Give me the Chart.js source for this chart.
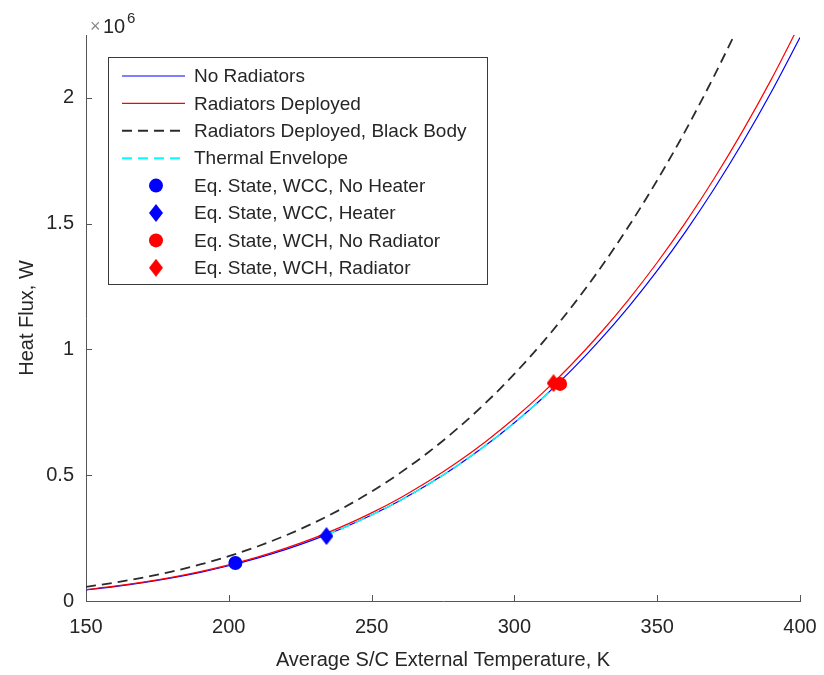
<!DOCTYPE html>
<html>
<head>
<meta charset="utf-8">
<script src="https://cdn.jsdelivr.net/npm/chart.js@4.4.0/dist/chart.umd.min.js"></script>
<style>
html, body { margin: 0; padding: 0; background: #fff; }
#wrap { width: 824px; height: 675px; }
</style>
</head>
<body>
<div id="wrap"><canvas id="myChart" width="824" height="675"></canvas></div>
<script>
/**
 *  Data
 */
var temperature = [150, 160, 170, 180, 190, 200, 210, 220, 230, 240, 250, 260, 270,
    280, 290, 300, 310, 320, 330, 340, 350, 360, 370, 380, 390, 400];
var noRadiators = [44300, 57300, 73100, 91900, 114000, 140000, 170200, 205000, 244900,
    290300, 341800, 399900, 465000, 537800, 618900, 708800, 808100, 917500, 1037700,
    1169300, 1313000, 1469700, 1639900, 1824500, 2024300, 2240000];
var radiatorsDeployed = [45400, 58800, 74900, 94100, 116900, 143500, 174400, 210100,
    250900, 297500, 350300, 409800, 476600, 551200, 634200, 726300, 828100, 940300,
    1063400, 1198300, 1345600, 1506100, 1680600, 1869800, 2074500, 2295600];
var blackBodyTemperature = [150, 160, 170, 180, 190, 200, 210, 220, 230, 240, 250, 260,
    270, 280, 290, 300, 310, 320, 330, 340, 350, 360, 370, 377];
var blackBody = [56500, 73100, 93100, 117000, 145200, 178300, 216700, 261000, 311800,
    369800, 435300, 509300, 592200, 685000, 788200, 902700, 1029200, 1168600, 1321700,
    1489300, 1672400, 1871800, 2088600, 2250000];
var envelopeTemperature = [234, 240, 250, 260, 270, 280, 290, 300, 310, 314];
var envelope = [262400, 290300, 341800, 399900, 465000, 537800, 618900, 708800, 808100, 850600];

var stateLabels = ["Eq. State, WCC, No Heater", "Eq. State, WCC, Heater",
    "Eq. State, WCH, No Radiator", "Eq. State, WCH, Radiator"];
var stateTemperature = [202.3, 234.2, 316, 313.7];
var stateFlux = [151000, 258000, 863000, 866000];

var yTicks = [0, 500000, 1000000, 1500000, 2000000];
var xTicks = [150, 200, 250, 300, 350, 400];

/**
 *  Helpers
 */
var toPoints = function (xs, ys) {
    return xs.map(function (x, i) { return { x: x, y: ys[i] }; });
};

var makeDiamond = function (color) {
    var c = document.createElement("canvas");
    c.width = 14;
    c.height = 18;
    var g = c.getContext("2d");
    g.fillStyle = color;
    g.beginPath();
    g.moveTo(7, 0);
    g.lineTo(14, 9);
    g.lineTo(7, 18);
    g.lineTo(0, 9);
    g.closePath();
    g.fill();
    return c;
};

var textColor = "#262626";
var axisColor = "#555555";
var fontFamily = "'Liberation Sans', Arial, Helvetica, sans-serif";

var curve = function (label, xs, ys, color, dash, width, order) {
    return {
        label: label,
        data: toPoints(xs, ys),
        showLine: true,
        borderColor: color,
        backgroundColor: color,
        borderWidth: width,
        borderDash: dash,
        pointRadius: 0,
        cubicInterpolationMode: "monotone",
        order: order
    };
};

var marker = function (i, color, style, radius) {
    return {
        label: stateLabels[i],
        data: [{ x: stateTemperature[i], y: stateFlux[i] }],
        showLine: false,
        pointStyle: style,
        pointRadius: radius,
        pointBackgroundColor: color,
        pointBorderColor: color,
        borderColor: color,
        backgroundColor: color,
        pointBorderWidth: 0,
        order: 0
    };
};

/**
 *  Plugins: inward ticks, x10^6 label, legend box
 */
var matlabAxes = {
    id: "matlabAxes",
    afterDatasetsDraw: function (chart) {
        var ctx = chart.ctx;
        var area = chart.chartArea;
        var xs = chart.scales.x;
        var ys = chart.scales.y;
        ctx.save();
        ctx.strokeStyle = axisColor;
        ctx.lineWidth = 1;
        ctx.beginPath();
        xTicks.forEach(function (v) {
            var px = Math.round(xs.getPixelForValue(v)) + 0.5;
            ctx.moveTo(px, area.bottom);
            ctx.lineTo(px, area.bottom - 6);
        });
        yTicks.forEach(function (v) {
            var py = Math.round(ys.getPixelForValue(v)) + 0.5;
            ctx.moveTo(area.left, py);
            ctx.lineTo(area.left + 6, py);
        });
        ctx.stroke();

        // exponent label
        ctx.fillStyle = "#8a8a8a";
        ctx.font = "18px " + fontFamily;
        ctx.textBaseline = "alphabetic";
        ctx.textAlign = "left";
        ctx.fillText("\u00d7", 90, 32);
        ctx.fillStyle = textColor;
        ctx.font = "20px " + fontFamily;
        ctx.fillText("10", 103, 33);
        ctx.font = "15px " + fontFamily;
        ctx.fillText("6", 127, 23);
        ctx.restore();
    },
    afterDraw: function (chart) {
        var ctx = chart.ctx;
        var box = { left: 108.5, top: 57.5, right: 487.5, bottom: 284.5 };
        var rowTop = 76;
        var rowStep = 27.4;
        ctx.save();
        ctx.fillStyle = "#ffffff";
        ctx.fillRect(box.left, box.top, box.right - box.left, box.bottom - box.top);
        ctx.strokeStyle = "#3a3a3a";
        ctx.lineWidth = 1;
        ctx.strokeRect(box.left, box.top, box.right - box.left, box.bottom - box.top);
        ctx.font = "19px " + fontFamily;
        ctx.textBaseline = "middle";
        ctx.textAlign = "left";
        chart.data.datasets.forEach(function (ds, i) {
            var y = rowTop + i * rowStep;
            if (ds.showLine) {
                ctx.strokeStyle = ds.borderColor;
                ctx.lineWidth = ds.borderDash.length ? 2 : 1.2;
                ctx.setLineDash(ds.borderDash);
                ctx.beginPath();
                ctx.moveTo(122, y);
                ctx.lineTo(185, y);
                ctx.stroke();
                ctx.setLineDash([]);
            } else if (typeof ds.pointStyle === "string") {
                ctx.fillStyle = ds.pointBackgroundColor;
                ctx.beginPath();
                ctx.arc(156, y, ds.pointRadius, 0, Math.PI * 2);
                ctx.fill();
            } else {
                ctx.drawImage(ds.pointStyle, 156 - ds.pointStyle.width / 2, y - ds.pointStyle.height / 2);
            }
            ctx.fillStyle = textColor;
            ctx.fillText(ds.label, 194, y + 1);
        });
        ctx.restore();
    }
};

/**
 *  Chart
 */
var myChart = new Chart(document.getElementById("myChart"), {
    type: "scatter",
    data: {
        datasets: [
            curve("No Radiators", temperature, noRadiators, "#0000ff", [], 1.2, 6),
            curve("Radiators Deployed", temperature, radiatorsDeployed, "#ff0000", [], 1.2, 5),
            curve("Radiators Deployed, Black Body", blackBodyTemperature, blackBody, "#2b2b2b", [10, 6], 1.8, 4),
            curve("Thermal Envelope", envelopeTemperature, envelope, "#00ffff", [10, 6], 1.5, 3),
            marker(0, "#0000ff", "circle", 7),
            marker(1, "#0000ff", makeDiamond("#0000ff"), 9),
            marker(2, "#ff0000", "circle", 7),
            marker(3, "#ff0000", makeDiamond("#ff0000"), 9)
        ]
    },
    options: {
        responsive: false,
        animation: false,
        devicePixelRatio: 1,
        layout: { padding: { left: 0, top: 35, right: 24, bottom: 0 } },
        plugins: {
            legend: { display: false },
            tooltip: { enabled: false }
        },
        scales: {
            x: {
                type: "linear",
                min: 150,
                max: 400,
                afterFit: function (scale) {
                    scale.height = 74;
                    scale.paddingLeft = 0;
                    scale.paddingRight = 0;
                },
                afterBuildTicks: function (scale) {
                    scale.ticks = xTicks.map(function (v) { return { value: v }; });
                },
                grid: { display: false, drawTicks: false },
                border: { display: true, color: axisColor, width: 1 },
                ticks: {
                    padding: 14,
                    color: textColor,
                    font: { family: fontFamily, size: 20 },
                    maxRotation: 0
                },
                title: {
                    display: true,
                    text: "Average S/C External Temperature, K",
                    color: textColor,
                    font: { family: fontFamily, size: 20 },
                    padding: { top: 0, bottom: 3 }
                }
            },
            y: {
                type: "linear",
                min: 0,
                max: 2250000,
                afterFit: function (scale) {
                    scale.width = 86;
                    scale.paddingTop = 0;
                    scale.paddingBottom = 0;
                },
                afterBuildTicks: function (scale) {
                    scale.ticks = yTicks.map(function (v) { return { value: v }; });
                },
                grid: { display: false, drawTicks: false },
                border: { display: true, color: axisColor, width: 1 },
                ticks: {
                    padding: 12,
                    color: textColor,
                    font: { family: fontFamily, size: 20 },
                    callback: function (v) { return String(v / 1000000); }
                },
                title: {
                    display: true,
                    text: "Heat Flux, W",
                    color: textColor,
                    font: { family: fontFamily, size: 20 },
                    padding: { top: 15, bottom: 0 }
                }
            }
        }
    },
    plugins: [matlabAxes]
});
</script>
</body>
</html>
